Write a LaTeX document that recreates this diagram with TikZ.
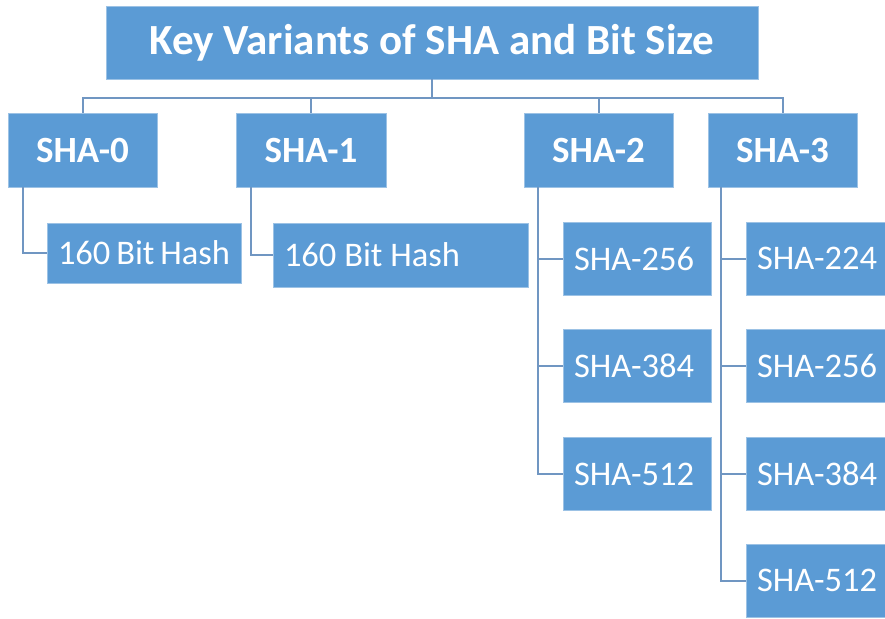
\documentclass[tikz,border=0pt]{standalone}
\usepackage{fontspec}
\setmainfont{Carlito}
\definecolor{boxblue}{HTML}{5B9BD5}
\definecolor{boxedge}{HTML}{9CC2E5}
\definecolor{linkblue}{HTML}{7096C2}
\begin{document}
\begin{tikzpicture}[x=1pt,y=-1pt,
  base/.style={rectangle, fill=boxblue, draw=boxedge, line width=0.8pt,
    text=white, inner ysep=0pt},
  titlebox/.style={base, minimum width=652, minimum height=73,
    font=\fontsize{43}{48}\selectfont\bfseries},
  headbox/.style={base, minimum width=149, minimum height=74,
    font=\fontsize{37}{42}\selectfont\bfseries},
  leafbox/.style={base, minimum height=73, inner xsep=11pt, align=flush left,
    font=\fontsize{34.5}{38}\selectfont},
  link/.style={draw=linkblue, line width=2pt}]
\useasboundingbox (0,0) rectangle (885,618);

% title and bus line
\node[titlebox] (title) at (432,42.5) {Key Variants of SHA and Bit Size};
\coordinate (bus) at (432,98);

% family heads
\node[headbox] (sha0) at (82.5,150) {SHA-0};
\node[headbox, minimum width=150] (sha1) at (311,150) {SHA-1};
\node[headbox] (sha2) at (598.5,150) {SHA-2};
\node[headbox] (sha3) at (782.5,150) {SHA-3};

% output sizes
\node[leafbox, text width=172, minimum height=60] (h0) at (144,253) {160~Bit~Hash};
\node[leafbox, text width=233, minimum height=64] (h1) at (400.5,255) {160~Bit~Hash};

\node[leafbox, text width=126] (s2a) at (637,258.5) {SHA-256};
\node[leafbox, text width=126] (s2b) at (637,365.5) {SHA-384};
\node[leafbox, text width=126] (s2c) at (637,474) {SHA-512};

\node[leafbox, text width=126] (s3a) at (820,258.5) {SHA-224};
\node[leafbox, text width=126] (s3b) at (820,365.5) {SHA-256};
\node[leafbox, text width=126] (s3c) at (820,474) {SHA-384};
\node[leafbox, text width=126] (s3d) at (820,580.5) {SHA-512};

% tree connectors
\draw[link] (title.south) -- (bus);
\draw[link] (bus) -| (sha0.north);
\draw[link] (bus) -| (sha1.north);
\draw[link] (bus) -| (sha2.north);
\draw[link] (bus) -| (sha3.north);

\draw[link] ([xshift=15pt]sha0.south west) |- (h0.west);
\draw[link] ([xshift=15pt]sha1.south west) |- (h1.west);

\draw[link] ([xshift=14pt]sha2.south west) |- (s2a.west);
\draw[link] ([xshift=14pt]sha2.south west) |- (s2b.west);
\draw[link] ([xshift=14pt]sha2.south west) |- (s2c.west);

\draw[link] ([xshift=13pt]sha3.south west) |- (s3a.west);
\draw[link] ([xshift=13pt]sha3.south west) |- (s3b.west);
\draw[link] ([xshift=13pt]sha3.south west) |- (s3c.west);
\draw[link] ([xshift=13pt]sha3.south west) |- (s3d.west);
\end{tikzpicture}
\end{document}
